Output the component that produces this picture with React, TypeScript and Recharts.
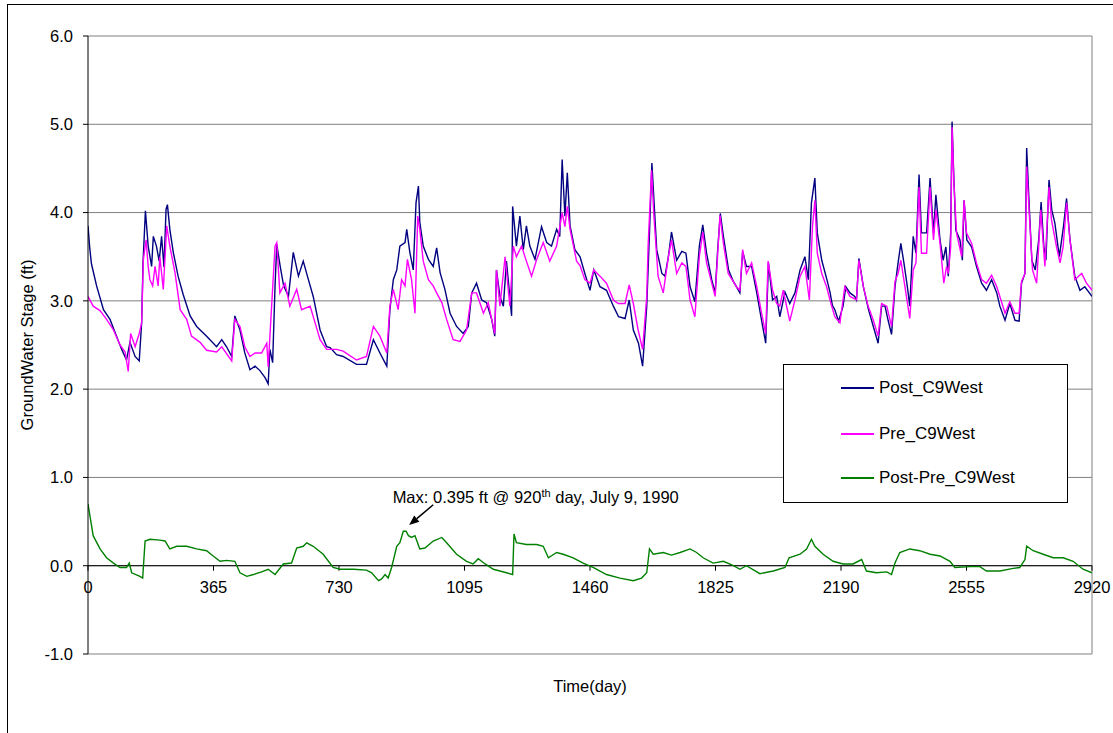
import React from 'react';
import { LineChart, Line, XAxis, YAxis, CartesianGrid, ReferenceLine, ReferenceDot, Legend } from 'recharts';

const FONT = '"Liberation Sans", Arial, Helvetica, sans-serif';

const X_TICKS = [0, 365, 730, 1095, 1460, 1825, 2190, 2555, 2920];
const Y_TICKS = [-1, 0, 1, 2, 3, 4, 5, 6];
const SERIES_NAMES = ['Post_C9West', 'Pre_C9West', 'Post-Pre_C9West'];
const SERIES_COLORS = ['#000080', '#FF00FF', '#008000'];
const X_TITLE = 'Time(day)';
const Y_TITLE = 'GroundWater Stage (ft)';

// [day, stage ft]
const POST: [number, number][] = [
  [0, 3.85], [5, 3.6], [10, 3.42], [25, 3.17], [45, 2.9], [64, 2.79], [83, 2.6], [98, 2.45], [112, 2.33], [122, 2.53],
  [137, 2.37], [149, 2.32], [156, 2.75], [160, 3.43], [167, 4.02], [175, 3.62], [185, 3.39], [190, 3.73], [199, 3.62], [207, 3.45],
  [214, 3.73], [221, 3.38], [227, 4.04], [231, 4.09], [238, 3.81], [248, 3.55], [262, 3.28], [277, 3.07], [297, 2.83], [316, 2.71],
  [345, 2.6], [374, 2.48], [389, 2.56], [403, 2.48], [418, 2.37], [427, 2.83], [442, 2.67], [456, 2.41], [471, 2.22], [486, 2.26],
  [500, 2.21], [515, 2.13], [524, 2.06], [529, 2.45], [537, 2.3], [544, 3.17], [549, 3.64], [559, 3.39], [569, 3.17], [583, 3.05],
  [597, 3.55], [612, 3.28], [626, 3.45], [641, 3.24], [655, 3.05], [675, 2.67], [694, 2.48], [704, 2.47], [723, 2.39], [742, 2.37],
  [781, 2.28], [810, 2.28], [830, 2.56], [849, 2.41], [869, 2.26], [878, 2.9], [888, 3.24], [898, 3.35], [907, 3.62], [922, 3.66],
  [927, 3.81], [936, 3.55], [946, 3.35], [954, 4.11], [961, 4.3], [965, 3.89], [975, 3.62], [990, 3.47], [1004, 3.39], [1014, 3.6],
  [1024, 3.32], [1038, 3.13], [1053, 2.86], [1072, 2.71], [1091, 2.63], [1106, 2.71], [1116, 3.09], [1130, 3.2], [1145, 3.01], [1159, 2.98],
  [1174, 2.79], [1183, 2.6], [1188, 3.35], [1198, 3.05], [1208, 2.94], [1217, 3.45], [1232, 2.83], [1235, 4.07], [1246, 3.62], [1256, 3.96],
  [1266, 3.58], [1275, 3.85], [1285, 3.62], [1300, 3.47], [1319, 3.84], [1334, 3.66], [1348, 3.62], [1363, 3.81], [1372, 3.73], [1379, 4.6],
  [1387, 3.96], [1394, 4.45], [1402, 3.85], [1416, 3.58], [1431, 3.5], [1445, 3.31], [1460, 3.12], [1471, 3.35], [1489, 3.16], [1508, 3.12],
  [1528, 2.94], [1543, 2.82], [1562, 2.8], [1574, 3.01], [1586, 2.67], [1601, 2.52], [1613, 2.26], [1625, 2.94], [1633, 3.77], [1640, 4.56],
  [1646, 4.14], [1654, 3.58], [1669, 3.31], [1678, 3.28], [1688, 3.5], [1697, 3.78], [1712, 3.46], [1727, 3.56], [1739, 3.54], [1751, 3.16],
  [1765, 2.99], [1778, 3.62], [1788, 3.86], [1799, 3.54], [1814, 3.24], [1824, 3.09], [1831, 3.56], [1839, 3.99], [1848, 3.73], [1863, 3.35],
  [1877, 3.22], [1896, 3.09], [1904, 3.56], [1915, 3.39], [1930, 3.39], [1945, 3.09], [1959, 2.78], [1971, 2.52], [1979, 3.43], [1991, 3.01],
  [2003, 3.05], [2012, 2.82], [2027, 3.1], [2041, 2.97], [2056, 3.09], [2071, 3.35], [2085, 3.5], [2095, 3.24], [2104, 4.11], [2114, 4.39],
  [2121, 3.77], [2134, 3.46], [2149, 3.24], [2158, 3.1], [2165, 2.95], [2172, 2.9], [2183, 2.77], [2196, 2.94], [2204, 3.16], [2216, 3.09],
  [2230, 3.05], [2235, 3.01], [2242, 3.48], [2255, 3.16], [2270, 2.9], [2284, 2.71], [2298, 2.52], [2308, 2.94], [2318, 2.94], [2327, 2.78],
  [2337, 2.62], [2347, 3.16], [2356, 3.43], [2364, 3.65], [2373, 3.43], [2383, 3.16], [2390, 2.94], [2400, 3.73], [2408, 3.54], [2417, 4.43],
  [2424, 3.77], [2439, 3.77], [2449, 4.39], [2459, 3.77], [2466, 4.2], [2478, 3.69], [2487, 3.46], [2495, 3.61], [2502, 3.28], [2509, 3.77],
  [2513, 5.03], [2518, 4.41], [2524, 3.8], [2536, 3.69], [2543, 3.46], [2548, 4.14], [2556, 3.69], [2570, 3.61], [2584, 3.39], [2599, 3.2],
  [2613, 3.12], [2628, 3.24], [2643, 3.09], [2652, 2.94], [2667, 2.78], [2681, 2.97], [2696, 2.78], [2708, 2.77], [2715, 3.2], [2725, 3.31],
  [2730, 4.73], [2737, 4.11], [2745, 3.46], [2755, 3.35], [2765, 3.69], [2772, 4.12], [2780, 3.61], [2786, 3.46], [2795, 4.37], [2803, 4.03],
  [2812, 3.88], [2825, 3.5], [2837, 3.84], [2846, 4.16], [2856, 3.69], [2870, 3.28], [2885, 3.12], [2899, 3.16], [2920, 3.05],
];

const PRE: [number, number][] = [
  [0, 3.05], [15, 2.94], [35, 2.89], [54, 2.79], [74, 2.67], [93, 2.5], [108, 2.42], [117, 2.2], [124, 2.63], [137, 2.48],
  [149, 2.63], [156, 2.75], [161, 3.47], [169, 3.69], [175, 3.39], [180, 3.24], [188, 3.17], [195, 3.39], [204, 3.17], [209, 3.5],
  [219, 3.13], [229, 3.85], [238, 3.62], [253, 3.32], [268, 2.9], [287, 2.79], [301, 2.6], [326, 2.53], [345, 2.44], [374, 2.42],
  [389, 2.48], [418, 2.32], [427, 2.79], [442, 2.71], [456, 2.48], [471, 2.37], [486, 2.41], [505, 2.41], [520, 2.52], [524, 2.25],
  [544, 3.62], [549, 3.66], [558, 3.09], [573, 3.2], [587, 2.94], [607, 3.13], [621, 2.9], [646, 2.94], [675, 2.56], [694, 2.45],
  [723, 2.45], [742, 2.43], [781, 2.33], [810, 2.37], [830, 2.71], [849, 2.6], [869, 2.41], [878, 2.94], [888, 3.13], [902, 2.9],
  [912, 3.24], [922, 3.17], [929, 3.47], [941, 3.24], [951, 2.86], [959, 3.96], [965, 3.81], [975, 3.45], [990, 3.24], [1004, 3.17],
  [1014, 3.09], [1029, 2.98], [1043, 2.79], [1062, 2.56], [1082, 2.54], [1101, 2.67], [1116, 3.09], [1130, 3.09], [1150, 2.86], [1164, 2.98],
  [1183, 2.63], [1188, 3.35], [1198, 2.94], [1213, 3.5], [1227, 2.94], [1237, 3.62], [1246, 3.5], [1261, 3.62], [1275, 3.45], [1290, 3.28],
  [1305, 3.47], [1324, 3.66], [1343, 3.45], [1363, 3.62], [1379, 4.0], [1387, 3.84], [1394, 4.07], [1402, 3.81], [1421, 3.45], [1431, 3.4],
  [1445, 3.24], [1460, 3.2], [1471, 3.35], [1489, 3.28], [1508, 3.2], [1528, 3.01], [1542, 2.97], [1562, 2.97], [1574, 3.18], [1586, 2.97],
  [1600, 2.67], [1613, 2.45], [1625, 3.05], [1629, 3.62], [1639, 4.48], [1646, 3.95], [1658, 3.28], [1673, 3.09], [1688, 3.5], [1697, 3.69],
  [1712, 3.31], [1727, 3.43], [1739, 3.39], [1751, 3.01], [1765, 2.82], [1778, 3.5], [1788, 3.78], [1799, 3.43], [1824, 3.05], [1838, 3.97],
  [1848, 3.65], [1862, 3.31], [1886, 3.16], [1896, 3.12], [1904, 3.58], [1915, 3.31], [1930, 3.43], [1945, 3.16], [1959, 2.86], [1971, 2.63],
  [1978, 3.45], [1991, 3.12], [2003, 2.97], [2012, 2.94], [2022, 3.12], [2041, 2.77], [2056, 3.01], [2071, 3.28], [2085, 3.39], [2098, 3.01],
  [2107, 3.84], [2114, 4.14], [2121, 3.54], [2134, 3.31], [2148, 3.16], [2160, 2.98], [2172, 2.82], [2187, 2.75], [2201, 3.16], [2216, 3.05],
  [2235, 3.01], [2242, 3.46], [2255, 3.16], [2269, 2.94], [2284, 2.78], [2298, 2.6], [2308, 2.97], [2323, 2.94], [2337, 2.71], [2347, 3.22],
  [2356, 3.31], [2364, 3.46], [2376, 3.16], [2390, 2.8], [2400, 3.35], [2408, 3.43], [2417, 4.29], [2424, 3.54], [2439, 3.54], [2449, 4.29],
  [2459, 3.69], [2466, 4.03], [2478, 3.65], [2489, 3.2], [2497, 3.39], [2502, 3.31], [2509, 3.61], [2513, 4.97], [2518, 4.37], [2526, 3.77],
  [2541, 3.5], [2548, 4.14], [2555, 3.77], [2570, 3.65], [2584, 3.43], [2599, 3.24], [2613, 3.2], [2628, 3.29], [2643, 3.16], [2652, 3.05],
  [2667, 2.86], [2681, 2.99], [2696, 2.86], [2708, 2.86], [2715, 3.22], [2725, 3.31], [2730, 4.52], [2737, 4.03], [2747, 3.35], [2759, 3.2],
  [2771, 4.03], [2783, 3.39], [2795, 4.29], [2802, 3.92], [2817, 3.61], [2827, 3.43], [2836, 3.61], [2846, 4.11], [2856, 3.69], [2870, 3.24],
  [2890, 3.31], [2904, 3.2], [2920, 3.12],
];

const DIFF: [number, number][] = [
  [0, 0.7], [15, 0.34], [35, 0.19], [54, 0.09], [74, 0.03], [93, -0.02], [112, -0.02], [120, 0.03], [127, -0.08], [151, -0.12],
  [159, -0.14], [166, 0.28], [180, 0.3], [209, 0.29], [224, 0.28], [238, 0.19], [258, 0.22], [287, 0.22], [316, 0.19], [345, 0.17],
  [364, 0.11], [384, 0.05], [403, 0.06], [427, 0.05], [442, -0.08], [462, -0.12], [481, -0.1], [505, -0.07], [524, -0.04], [544, -0.1],
  [568, 0.02], [592, 0.03], [607, 0.2], [626, 0.22], [636, 0.26], [655, 0.22], [684, 0.13], [713, -0.02], [733, -0.04], [772, -0.04],
  [810, -0.05], [825, -0.08], [845, -0.17], [854, -0.15], [864, -0.1], [873, -0.14], [883, -0.02], [898, 0.22], [907, 0.26], [917, 0.39],
  [925, 0.39], [932, 0.34], [941, 0.32], [951, 0.34], [965, 0.19], [980, 0.2], [1004, 0.28], [1029, 0.32], [1043, 0.26], [1072, 0.13],
  [1101, 0.05], [1120, 0.02], [1135, 0.08], [1155, 0.02], [1179, -0.04], [1198, -0.06], [1217, -0.08], [1235, -0.1], [1239, 0.36], [1246, 0.26],
  [1275, 0.24], [1305, 0.24], [1324, 0.22], [1339, 0.09], [1363, 0.15], [1382, 0.13], [1411, 0.09], [1440, 0.03], [1469, -0.02], [1508, -0.1],
  [1547, -0.14], [1586, -0.17], [1610, -0.14], [1625, -0.08], [1633, 0.19], [1644, 0.13], [1673, 0.15], [1697, 0.12], [1722, 0.15], [1751, 0.19],
  [1770, 0.15], [1789, 0.09], [1818, 0.03], [1848, 0.05], [1877, 0.0], [1896, -0.04], [1915, 0.0], [1954, -0.09], [1993, -0.06], [2027, -0.02],
  [2039, 0.09], [2071, 0.13], [2090, 0.19], [2104, 0.3], [2114, 0.22], [2138, 0.13], [2167, 0.05], [2196, 0.02], [2225, 0.02], [2250, 0.07],
  [2264, -0.06], [2293, -0.08], [2323, -0.07], [2337, -0.1], [2347, 0.03], [2361, 0.15], [2390, 0.19], [2419, 0.17], [2449, 0.13], [2478, 0.11],
  [2507, 0.05], [2521, -0.02], [2565, -0.01], [2594, -0.01], [2613, -0.06], [2652, -0.06], [2691, -0.03], [2710, -0.02], [2725, 0.07], [2730, 0.22],
  [2749, 0.17], [2778, 0.13], [2807, 0.09], [2836, 0.09], [2865, 0.05], [2894, -0.04], [2920, -0.08],
];

// annotation anchors (data coordinates)
const ANNOT_TEXT_AT = { day: 886, v: 0.71 };
const ARROW_FROM = { day: 1004, v: 0.69 };
const ARROW_TO = { day: 934, v: 0.46 };

const toRows = (pts: [number, number][]) => pts.map(([day, v]) => ({ day, v }));
const postRows = toRows(POST);
const preRows = toRows(PRE);
const diffRows = toRows(DIFF);

const W = 1113;
const H = 733;
const TICK_FS = 16.5;

const ArrowShape = (props: any) => {
  const { x1, y1, x2, y2 } = props;
  if ([x1, y1, x2, y2].some((v) => typeof v !== 'number' || isNaN(v))) return null;
  const dx = x2 - x1;
  const dy = y2 - y1;
  const len = Math.sqrt(dx * dx + dy * dy) || 1;
  const ux = dx / len;
  const uy = dy / len;
  const hl = 10;
  const hw = 4;
  const bx = x2 - ux * hl;
  const by = y2 - uy * hl;
  const p1 = `${x2},${y2}`;
  const p2 = `${bx - uy * hw},${by + ux * hw}`;
  const p3 = `${bx + uy * hw},${by - ux * hw}`;
  return (
    <g>
      <line x1={x1} y1={y1} x2={bx} y2={by} stroke="#000" strokeWidth={1.5} />
      <polygon points={`${p1} ${p2} ${p3}`} fill="#000" />
    </g>
  );
};

const AnnotText = (props: any) => {
  const { cx, cy } = props;
  if (typeof cx !== 'number' || typeof cy !== 'number') return null;
  return (
    <text x={cx} y={cy} fill="#000" fontSize={16.5} fontFamily={FONT} textAnchor="start">
      Max: 0.395 ft @ 920
      <tspan dy={-6} fontSize={11}>th</tspan>
      <tspan dy={6}> day, July 9, 1990</tspan>
    </text>
  );
};

const renderLegend = (props: any) => {
  const payload = (props && props.payload) || [];
  const items = SERIES_NAMES.map((n, i) => {
    const p = payload.find((q: any) => q.value === n);
    return { name: n, color: (p && p.color) || SERIES_COLORS[i] };
  });
  const tops = [23, 69, 113];
  return (
    <div
      style={{
        width: 285,
        height: 139,
        border: '1px solid #000',
        background: '#fff',
        boxSizing: 'border-box',
        position: 'relative',
        fontFamily: FONT,
      }}
    >
      {items.map((it, i) => (
        <div key={it.name} style={{ position: 'absolute', left: 0, top: tops[i] - 10, height: 20, width: 285 }}>
          <div style={{ position: 'absolute', left: 57, top: 9, width: 33, height: 0, borderTop: `2px solid ${it.color}` }} />
          <div style={{ position: 'absolute', left: 95, top: 0, lineHeight: '20px', fontSize: 17, color: '#000', whiteSpace: 'nowrap' }}>
            {it.name}
          </div>
        </div>
      ))}
    </div>
  );
};

const YTitle = (props: any) => {
  const vb = props.viewBox || {};
  const x = (vb.x || 0) + 19;
  const y = (vb.y || 0) + (vb.height || 0) / 2;
  return (
    <text
      x={x}
      y={y}
      transform={`rotate(-90, ${x}, ${y})`}
      textAnchor="middle"
      dominantBaseline="central"
      fill="#000"
      fontSize={16.5}
      fontFamily={FONT}
    >
      {Y_TITLE}
    </text>
  );
};

export default function App() {
  return (
    <div style={{ position: 'absolute', left: 0, top: 0, width: W, height: H, overflow: 'hidden', background: '#fff', fontFamily: FONT }}>
      <div
        style={{
          position: 'absolute',
          left: 7,
          top: 4,
          width: 1130,
          height: 800,
          border: '1px solid #000',
          boxSizing: 'border-box',
        }}
      />
      <div style={{ position: 'absolute', left: 0, top: 0 }}>
        <LineChart width={W} height={H} margin={{ top: 36, right: 21, bottom: 29, left: 8 }}>
          <CartesianGrid vertical={false} stroke="#808080" strokeWidth={1} />
          <XAxis
            type="number"
            dataKey="day"
            domain={[0, 2920]}
            ticks={X_TICKS}
            tick={false}
            axisLine={false}
            tickLine={false}
            height={50}
            allowDataOverflow
            label={{ value: X_TITLE, position: 'insideBottom', offset: 12, fill: '#000', fontSize: 16.5 }}
          />
          <YAxis
            type="number"
            domain={[-1, 6]}
            ticks={Y_TICKS}
            interval={0}
            width={80}
            tickFormatter={(v: number) => v.toFixed(1)}
            tickSize={5}
            tickMargin={10}
            axisLine={{ stroke: '#000', strokeWidth: 1 }}
            tickLine={{ stroke: '#000', strokeWidth: 1 }}
            tick={{ fill: '#000', fontSize: TICK_FS }}
            allowDataOverflow
            label={<YTitle />}
          />
          <ReferenceLine x={2920} stroke="#808080" strokeWidth={1} />
          <ReferenceLine y={0} stroke="#000" strokeWidth={1} />
          {X_TICKS.map((t) => (
            <ReferenceLine
              key={`xt-${t}`}
              segment={[{ x: t, y: 0 }, { x: t, y: -0.057 }]}
              stroke="#000"
              strokeWidth={1}
              label={{ value: String(t), position: 'bottom', offset: 11, fill: '#000', fontSize: TICK_FS }}
            />
          ))}
          <Line
            data={postRows}
            dataKey="v"
            name={SERIES_NAMES[0]}
            type="linear"
            stroke={SERIES_COLORS[0]}
            strokeWidth={1.4}
            dot={false}
            isAnimationActive={false}
          />
          <Line
            data={preRows}
            dataKey="v"
            name={SERIES_NAMES[1]}
            type="linear"
            stroke={SERIES_COLORS[1]}
            strokeWidth={1.4}
            dot={false}
            isAnimationActive={false}
          />
          <Line
            data={diffRows}
            dataKey="v"
            name={SERIES_NAMES[2]}
            type="linear"
            stroke={SERIES_COLORS[2]}
            strokeWidth={1.4}
            dot={false}
            isAnimationActive={false}
          />
          <ReferenceLine
            segment={[{ x: ARROW_FROM.day, y: ARROW_FROM.v }, { x: ARROW_TO.day, y: ARROW_TO.v }]}
            shape={ArrowShape}
          />
          <ReferenceDot x={ANNOT_TEXT_AT.day} y={ANNOT_TEXT_AT.v} r={0} shape={AnnotText} />
          <Legend
            layout="vertical"
            align="center"
            verticalAlign="middle"
            wrapperStyle={{ left: 783, top: 364, width: 285, height: 139 }}
            content={renderLegend}
          />
        </LineChart>
      </div>
    </div>
  );
}
